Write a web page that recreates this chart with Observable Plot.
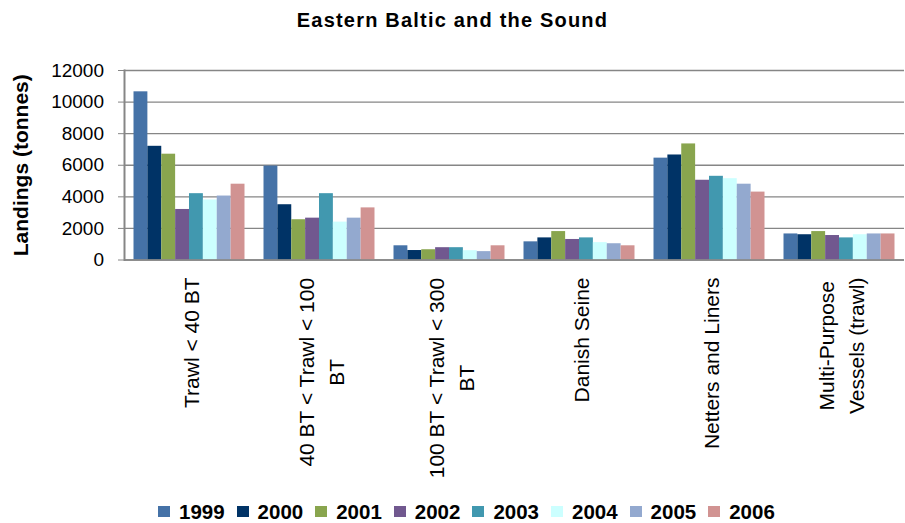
<!DOCTYPE html>
<html><head><meta charset="utf-8">
<script src="https://cdn.jsdelivr.net/npm/d3@7"></script>
<script src="https://cdn.jsdelivr.net/npm/@observablehq/plot@0.6"></script>
<style>
body{margin:0;background:#fff;font-family:"Liberation Sans",Arial,sans-serif;}
#wrap{position:relative;width:905px;height:523px;overflow:hidden;background:#fff;}
#title{height:45px;box-sizing:border-box;padding-top:10px;text-align:center;font-weight:bold;font-size:20px;line-height:20px;letter-spacing:1.2px;color:#000;}
#chart{height:445px;}
#chart svg{display:block;}
#legend{position:relative;height:33px;}
.item{position:absolute;top:0;width:78px;height:33px;}
.sw{position:absolute;top:16px;left:0;width:12px;height:11px;}
.lab{position:absolute;left:21px;top:10px;font-weight:bold;font-size:20.5px;line-height:23px;white-space:nowrap;color:#000;}
</style></head><body>
<div id="wrap"><div id="title">Eastern Baltic and the Sound</div><div id="chart"></div><div id="legend"></div></div>
<script>
const chartTitle = "Eastern Baltic and the Sound";
const yTitle = "Landings (tonnes)";
const categories = ["Trawl < 40 BT", "40 BT < Trawl < 100 BT", "100 BT < Trawl < 300 BT", "Danish Seine", "Netters and Liners", "Multi-Purpose Vessels (trawl)"];
const categoryLabels = ["Trawl < 40 BT", "40 BT < Trawl < 100\nBT", "100 BT < Trawl < 300\nBT", "Danish Seine", "Netters and Liners", "Multi-Purpose\nVessels (trawl)"];
const years = ["1999", "2000", "2001", "2002", "2003", "2004", "2005", "2006"];
const colors = ["#4572A7", "#003366", "#89A54E", "#71588F", "#4198AF", "#CCFFFF", "#93A9CF", "#D19392"];
const yTicks = [0, 2000, 4000, 6000, 8000, 10000, 12000];

const v1999 = [10650, 5950, 900, 1150, 6450, 1650];
const v2000 = [7200, 3500, 600, 1400, 6650, 1600];
const v2001 = [6700, 2550, 650, 1800, 7350, 1800];
const v2002 = [3200, 2650, 780, 1300, 5050, 1550];
const v2003 = [4200, 4200, 780, 1400, 5300, 1400];
const v2004 = [3800, 2400, 590, 1100, 5150, 1600];
const v2005 = [4050, 2650, 530, 1030, 4800, 1650];
const v2006 = [4800, 3300, 900, 900, 4300, 1650];
const series = [v1999, v2000, v2001, v2002, v2003, v2004, v2005, v2006];

const rows = [];
categories.forEach((c, i) => years.forEach((y, j) => rows.push({cat: c, year: y, value: series[j][i]})));

const ctx = document.createElement("canvas").getContext("2d");
ctx.font = '21px "Liberation Sans", Arial, sans-serif';
const labelMarks = categories.map((c, i) => {
  const lines = categoryLabels[i].split("\n");
  const L = Math.max(...lines.map(s => ctx.measureText(s).width));
  return Plot.text([c], {
    fx: d => d, text: () => categoryLabels[i], frameAnchor: "bottom", rotate: -90,
    textAnchor: "middle", lineAnchor: "middle", lineHeight: 1.43, fontSize: 21,
    dy: 17.5 + L / 2, fill: "black"
  });
});

document.getElementById("title").textContent = chartTitle;

const chart = Plot.plot({
  width: 905, height: 445,
  marginTop: 25, marginBottom: 230.5, marginLeft: 124, marginRight: 1,
  style: {fontFamily: '"Liberation Sans", Arial, sans-serif', fontSize: "19px", color: "black", background: "white"},
  fx: {domain: categories, padding: 0, round: false, axis: null, label: null},
  x: {domain: years, paddingInner: 0, paddingOuter: 0.685, round: false, axis: null},
  y: {domain: [0, 12000], axis: null},
  color: {domain: years, range: colors},
  marks: [
    Plot.gridY(yTicks, {stroke: "#868686", strokeOpacity: 1, strokeWidth: 1.3}),
    Plot.barY(rows, {fx: "cat", x: "year", y1: 0, y2: "value", fill: "year"}),
    Plot.ruleY([0], {stroke: "#868686", strokeWidth: 1.6}),
    Plot.axisY(yTicks, {tickSize: 6, tickPadding: 14.5, tickFormat: d => String(d), fontSize: 19, stroke: "#868686", fill: "black", label: null}),
    Plot.frame({anchor: "left", facetAnchor: "left", stroke: "#868686", strokeWidth: 2}),
    Plot.text([categories[0]], {fx: d => d, text: () => yTitle, frameAnchor: "left", rotate: -90, dx: -103.7, textAnchor: "middle", lineAnchor: "middle", fontSize: 21, fontWeight: "bold", fill: "black"}),
    ...labelMarks
  ]
});
document.getElementById("chart").appendChild(chart);

const legend = document.getElementById("legend");
years.forEach((y, i) => {
  const item = document.createElement("div");
  item.className = "item";
  item.style.left = (158 + i * 78.6) + "px";
  const sw = document.createElement("div");
  sw.className = "sw"; sw.style.background = colors[i];
  const lab = document.createElement("div");
  lab.className = "lab"; lab.textContent = y;
  item.appendChild(sw); item.appendChild(lab);
  legend.appendChild(item);
});
</script>
</body></html>
